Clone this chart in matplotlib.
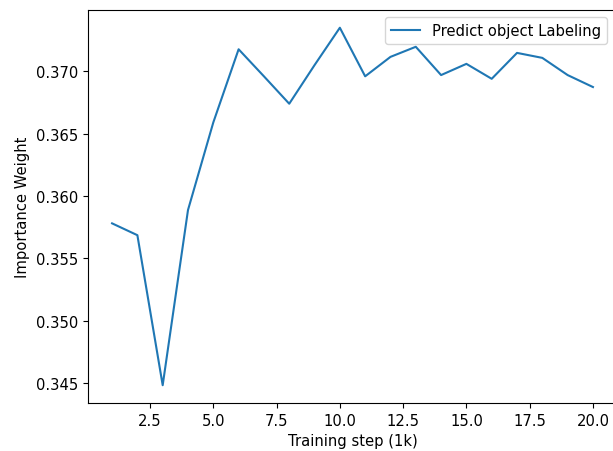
import matplotlib
matplotlib.use("Agg")
import matplotlib.pyplot as plt

# training steps (in thousands) and the importance weight
steps = list(range(1, 21))
weights = [0.3578, 0.35685, 0.34481, 0.35887, 0.3659, 0.37177, 0.3696, 0.3674,
           0.3705, 0.3735, 0.3696, 0.37116, 0.37197, 0.3697, 0.3706, 0.3694,
           0.37148, 0.37108, 0.3697, 0.36874]
label = "Predict object Labeling"

plt.rcParams["font.size"] = 10.6

fig = plt.figure(figsize=(6.13, 4.52), dpi=100)
# the reference is cropped on the right, so the axes run slightly past the edge
ax = fig.add_axes([0.1436, 0.106, 1.0065 - 0.1436, 0.87])
ax.plot(steps, weights, label=label)
ax.set_xlabel("Training step (1k)")
ax.set_ylabel("Importance Weight")
ax.legend(loc="upper right", bbox_to_anchor=(0.995, 1.0))

fig.savefig("out.png", dpi=100)
